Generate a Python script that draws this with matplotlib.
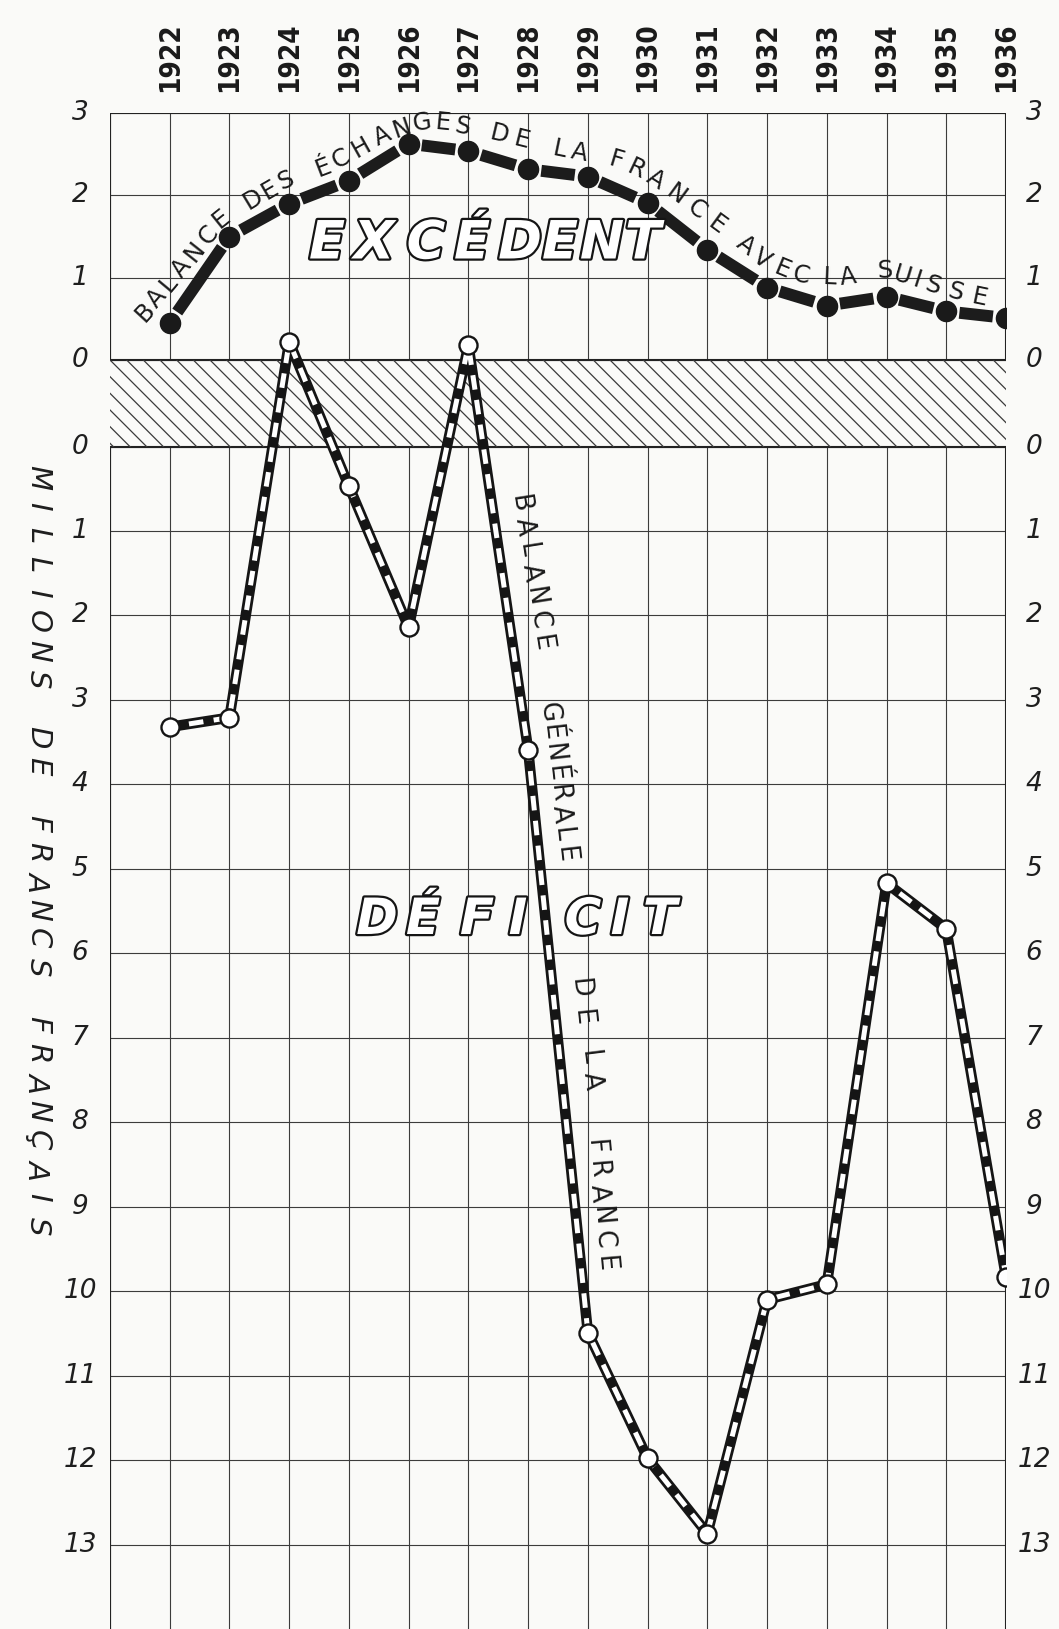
import numpy as np
import matplotlib
matplotlib.use("Agg")
import matplotlib.pyplot as plt
import matplotlib.patheffects as pe
from matplotlib.transforms import blended_transform_factory

plt.rcParams['lines.scale_dashes'] = False
plt.rcParams['hatch.linewidth'] = 0.9
plt.rcParams['font.family'] = ['DejaVu Sans']

# ---------------- data ----------------
years = list(range(1922, 1937))
year_labels = [str(y) for y in years]
# balance des échanges de la France avec la Suisse (excédent, positive)
swiss_balance = [0.45, 1.50, 1.90, 2.18, 2.63, 2.54, 2.32, 2.23, 1.91, 1.34,
                 0.88, 0.66, 0.77, 0.59, 0.51]
# balance générale de la France (negative = déficit)
france_balance = [-3.32, -3.21, 0.22, -0.47, -2.14, 0.18, -3.59, -10.49,
                  -11.98, -12.87, -10.10, -9.92, -5.17, -5.71, -9.83]
top_ticks = [0, 1, 2, 3]
bottom_ticks = list(range(0, 14))
top_title = "BALANCE DES ÉCHANGES DE LA FRANCE AVEC LA SUISSE"
general_words = ["BALANCE", "GÉNÉRALE", "DE", "LA", "FRANCE"]
y_label = "MILLIONS DE FRANCS FRANÇAIS"
word_top = "EXCÉDENT"
word_bottom = "DÉFICIT"

# ---------------- layout ----------------
W, H, DPI = 1059, 1629, 100
TOP_K = 0.973      # one top-panel unit expressed in bottom-panel units
BAND = 1.026       # height of the hatched band


def ypos(v):
    v = float(v)
    return BAND + v * TOP_K if v >= 0 else v


fig = plt.figure(figsize=(W / DPI, H / DPI), dpi=DPI)
paper = '#fafaf8'
fig.patch.set_facecolor(paper)
ax = fig.add_axes([110 / W, 0, (1006 - 110) / W, (H - 113.3) / H])
ax.set_facecolor(paper)
x0, x1 = years[0] - 1, years[-1]
ybot = -(bottom_ticks[-1] + 1)
ytop = ypos(top_ticks[-1])
ax.set_xlim(x0, x1)
ax.set_ylim(ybot, ytop)
ax.axis('off')

gc = '#3c3c3c'
xl = [x0] + years
ax.vlines(xl, ypos(0), ytop, color=gc, lw=0.8, zorder=1)
ax.vlines(xl, ybot, 0, color=gc, lw=0.8, zorder=1)
ax.hlines([ypos(t) for t in top_ticks], x0, x1, color=gc, lw=0.8, zorder=1)
ax.hlines([-d for d in bottom_ticks], x0, x1, color=gc, lw=0.8, zorder=1)
# borders
ax.vlines([x0, x1], ypos(0), ytop, color='#222', lw=1.5, zorder=1)
ax.vlines([x0, x1], ybot, 0, color='#222', lw=1.5, zorder=1)
ax.hlines([ytop, ypos(0), 0], x0, x1, color='#222', lw=1.5, zorder=1)
# hatched band
ax.fill_between([x0, x1], 0, BAND, facecolor='none', edgecolor='#3a3a3a',
                hatch='\\\\', linewidth=0, zorder=1)

# ---------------- Swiss line (black dashes, filled dots) ----------------
xs = np.array(years, float)
ys = np.array([ypos(v) for v in swiss_balance])
pts = ax.transData.transform(np.column_stack([xs, ys]))
gap = 9.5  # points from dot centre to dash start
for i in range(len(xs) - 1):
    L = np.hypot(*(pts[i + 1] - pts[i])) * 72 / DPI
    on = max(L - 2 * gap, 1.0)
    off = 2 * gap + 200
    ax.plot(xs[i:i + 2], ys[i:i + 2], color='#1c1c1c', lw=8.6,
            linestyle=(on + off - gap, (on, off)), dash_capstyle='butt',
            solid_capstyle='butt', zorder=4)
ax.plot(xs, ys, 'o', color='#1a1a1a', ms=14.5, zorder=5)

# ---------------- general balance (black line with white dashes) --------
yg = np.array([ypos(v) for v in france_balance])
ax.plot(xs, yg, color='#151515', lw=7.6, solid_joinstyle='round', zorder=4)
ax.plot(xs, yg, color='white', lw=3.6, linestyle=(4, (10.5, 7.5)),
        dash_capstyle='butt', dash_joinstyle='round', zorder=4.1)
ax.plot(xs, yg, 'o', ms=13, mfc='white', mec='#151515', mew=1.7, zorder=5)

# ---------------- tick labels ----------------
bt_l = blended_transform_factory(fig.transFigure, ax.transData)
tick_kw = dict(fontsize=19, style='italic', color='#1e1e1e', ha='center', va='center')
for t in top_ticks:
    fig.text(80 / W, ypos(t), str(t), transform=bt_l, **tick_kw)
    fig.text(1034 / W, ypos(t), str(t), transform=bt_l, **tick_kw)
for d in bottom_ticks:
    fig.text(80 / W, -d, str(d), transform=bt_l, **tick_kw)
    fig.text(1034 / W, -d, str(d), transform=bt_l, **tick_kw)

# year labels
bt_x = blended_transform_factory(ax.transData, fig.transFigure)
for y, lab in zip(years, year_labels):
    ax.text(y, 1 - 57.5 / H, lab, transform=bt_x, rotation=90, ha='center',
            va='center', fontsize=20, fontweight='bold', fontstretch='condensed',
            color='#1a1a1a')


# ---------------- helper for letter placement ----------------
def put_chars(chars, pts, rot=None, **kw):
    pts = np.asarray(pts, float)
    n = len(pts)
    for i, (c, (px, py)) in enumerate(zip(chars, pts)):
        if rot is None:
            a = pts[min(i + 1, n - 1)] - pts[max(i - 1, 0)]
            r = np.degrees(np.arctan2(-a[1], a[0]))
        else:
            r = rot
        fig.text(px / W, 1 - py / H, c, rotation=r, rotation_mode='anchor',
                 ha='center', va='center_baseline', **kw)


def spread(word, p0, p1):
    t = np.linspace(0, 1, len(word))
    return [(p0[0] + (p1[0] - p0[0]) * s, p0[1] + (p1[1] - p0[1]) * s) for s in t]


def angle(p0, p1):
    return np.degrees(np.arctan2(-(p1[1] - p0[1]), p1[0] - p0[0]))


# curved title above the Swiss line (centres of letters, figure pixels)
title_path = [
    (143, 310), (155, 297), (167, 282), (180, 267), (193, 250), (207, 233), (220, 217),
    (252, 197), (268, 188), (285, 178),
    (322, 165), (340, 157), (360, 145), (381, 134), (401, 126), (422, 120), (443, 120), (463, 124),
    (500, 132), (522, 138),
    (560, 147), (580, 150),
    (617, 158), (637, 167), (657, 177), (678, 193), (698, 207), (718, 223),
    (747, 243), (763, 257), (783, 267), (802, 273),
    (830, 275), (848, 275),
    (885, 268), (903, 273), (918, 278), (934, 283), (956, 290), (980, 295),
]
put_chars([c for c in top_title if c != ' '], title_path, fontsize=17.5, color='#1a1a1a')

# vertical title along the general balance line
word_ends = [((523, 503), (545, 642)), ((552, 712), (568, 854)),
             ((582, 988), (585, 1017)), ((592, 1057), (595, 1081)),
             ((598, 1146), (608, 1263))]
for w, (p0, p1) in zip(general_words, word_ends):
    put_chars(w, spread(w, p0, p1), rot=angle(p0, p1), fontsize=18.5, color='#1a1a1a')

# y label
put_chars(y_label, spread(y_label, (41, 478), (41, 1226)), rot=-90,
          fontsize=21, style='italic', color='#1e1e1e')

# outlined big words
outline = [pe.Stroke(linewidth=3.2, foreground='#151515'), pe.Normal()]
big_kw = dict(fontsize=38, fontweight='bold', style='italic', color='white',
              path_effects=outline, zorder=3)
put_chars(word_top, [(x, 238) for x in [327, 374, 426, 472, 520, 560, 602, 643]],
          rot=0, **big_kw)
big_kw['fontsize'] = 36
put_chars(word_bottom, [(x, 915) for x in [377, 423, 477, 518, 583, 620, 660]],
          rot=0, **big_kw)

fig.savefig('out.png', dpi=DPI, facecolor=paper)
